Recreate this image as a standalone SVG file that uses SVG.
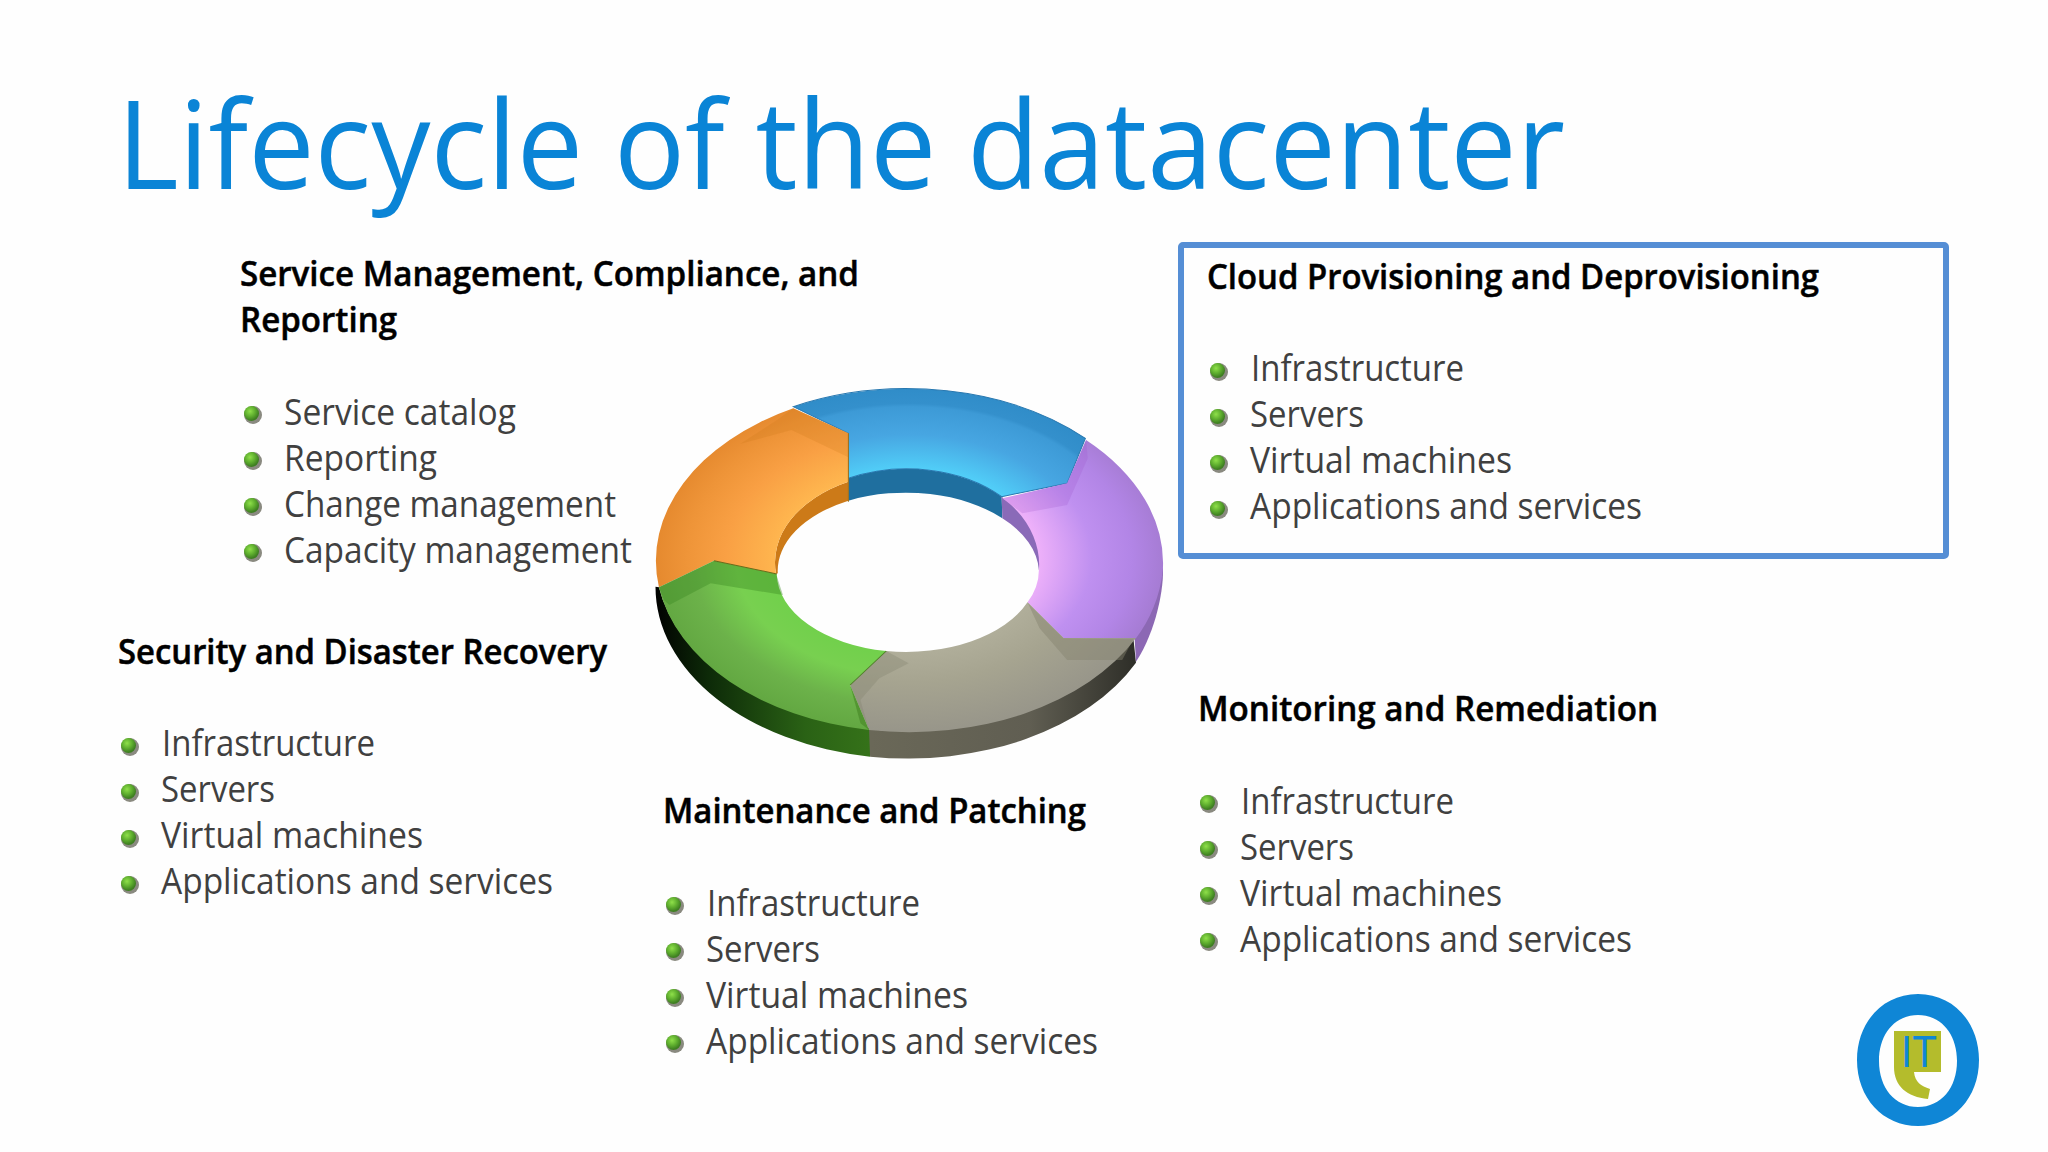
<svg xmlns="http://www.w3.org/2000/svg" width="2048" height="1152" viewBox="0 0 2048 1152">
<style>
text{font-family:"Open Sans","Noto Sans","Liberation Sans",sans-serif}
.title{font-size:122px;font-weight:400;fill:#0a84d6}
.h{font-size:35px;font-weight:600;fill:#000;stroke:#000;stroke-width:.5px}
.i{font-size:36px;font-weight:400;fill:#404040}
</style>
<defs>
<radialGradient id="bg" cx=".4" cy=".35" r=".6"><stop offset="0" stop-color="#8fe04a"/><stop offset=".6" stop-color="#5cab2d"/><stop offset="1" stop-color="#3f7f22"/></radialGradient>
<g id="b"><circle cx="1" cy="1" r="9" fill="#8a8a80"/><circle cx="-.5" cy="-.5" r="7.5" fill="url(#bg)"/></g>
<radialGradient id="gBlue" gradientUnits="userSpaceOnUse" cx="780" cy="565" r="738" gradientTransform="translate(780 565) scale(1 .7) translate(-780 -565)"><stop offset=".5" stop-color="#52d2fa"/><stop offset=".72" stop-color="#47a6e2"/><stop offset=".88" stop-color="#3d9ad6"/><stop offset=".9" stop-color="#3490cc"/><stop offset="1" stop-color="#2f8cc8"/></radialGradient>
<radialGradient id="gOrange" gradientUnits="userSpaceOnUse" cx="780" cy="565" r="738" gradientTransform="translate(780 565) scale(1 .7) translate(-780 -565)"><stop offset=".5" stop-color="#ffb850"/><stop offset=".72" stop-color="#f9a044"/><stop offset=".88" stop-color="#ee9438"/><stop offset="1" stop-color="#e5892e"/></radialGradient>
<radialGradient id="gPurple" gradientUnits="userSpaceOnUse" cx="780" cy="565" r="738" gradientTransform="translate(780 565) scale(1 .7) translate(-780 -565)"><stop offset=".5" stop-color="#f0b2fa"/><stop offset=".72" stop-color="#bf90f0"/><stop offset=".88" stop-color="#b285e6"/><stop offset="1" stop-color="#a67cd4"/></radialGradient>
<radialGradient id="gGreen" gradientUnits="userSpaceOnUse" cx="780" cy="565" r="738" gradientTransform="translate(780 565) scale(1 .7) translate(-780 -565)"><stop offset=".5" stop-color="#6fd04a"/><stop offset=".68" stop-color="#78d050"/><stop offset=".85" stop-color="#6cb24a"/><stop offset="1" stop-color="#63a842"/></radialGradient>
<radialGradient id="gGray" gradientUnits="userSpaceOnUse" cx="780" cy="565" r="738" gradientTransform="translate(780 565) scale(1 .7) translate(-780 -565)"><stop offset=".5" stop-color="#b2b09c"/><stop offset=".72" stop-color="#a6a490"/><stop offset="1" stop-color="#98968a"/></radialGradient>
<linearGradient id="gSideGreen" gradientUnits="userSpaceOnUse" x1="40" y1="0" x2="670" y2="0"><stop offset="0" stop-color="#000"/><stop offset=".25" stop-color="#0d2a08"/><stop offset=".7" stop-color="#2a6215"/><stop offset="1" stop-color="#357219"/></linearGradient>
<linearGradient id="gSideGray" gradientUnits="userSpaceOnUse" x1="670" y1="0" x2="1440" y2="0"><stop offset="0" stop-color="#6a6858"/><stop offset=".6" stop-color="#605e52"/><stop offset="1" stop-color="#2e2e28"/></linearGradient>
</defs>
<rect id="background" width="2048" height="1152" fill="#fefefe"/>
<text id="title" class="title" x="117" y="189" textLength="1448" lengthAdjust="spacingAndGlyphs">Lifecycle of the datacenter</text>

<g id="ring" transform="translate(640 370) scale(.34444 .33333)">
<path d="M45 650A738 515 0 0 0 668 1160L668 1075A738 515 0 0 1 55 652Z" fill="url(#gSideGreen)"/>
<path d="M668 1160A738 515 0 0 0 1440 878L1432 800A738 515 0 0 1 665 1078Z" fill="url(#gSideGray)"/>
<path d="M1436 805L1518 590C1522 650 1500 780 1440 875Z" fill="#8c68b4"/>
<path d="M605 392A380 237 0 0 1 1052 445L1050 380A380 270 0 0 0 605 325Z" fill="#1f6f9f"/>
<path d="M605 392A380 237 0 0 0 400 610L395 612A380 270 0 0 1 605 335Z" fill="#cc7a18"/>
<path d="M1052 445A380 237 0 0 1 1158 600L1172 600L1140 450L1050 380Z" fill="#8a6ab8"/>
<path d="M445 110A738 515 0 0 1 1293 205L1240 340L1050 380A380 270 0 0 0 605 325L605 190Z" fill="url(#gBlue)" stroke="#2878b0" stroke-width="3"/>
<path d="M445 115A738 515 0 0 0 55 652L215 572L395 612A380 270 0 0 1 605 335L605 190Z" fill="url(#gOrange)"/>
<path d="M1295 210A738 515 0 0 1 1518 600C1510 680 1480 750 1440 805L1230 805L1125 697A380 237 0 0 0 1158 600C1165 530 1130 440 1052 385L1240 340Z" fill="url(#gPurple)"/>
<path d="M1125 697A380 237 0 0 1 715 843L610 945L665 1080A738 515 0 0 0 1440 804L1230 804Z" fill="url(#gGray)"/>
<path d="M215 572L55 652A738 515 0 0 0 665 1080L610 945L715 843A380 237 0 0 1 397 612Z" fill="url(#gGreen)"/>
<path d="M445 115L605 190L605 262L440 180L290 222L398 150Z" fill="#c87818" opacity=".22"/>
<path d="M215 572L395 612L415 675L205 640L85 705L70 690L55 652Z" fill="#3c8a22" opacity=".4"/>
<path d="M1052 385L1240 340L1295 210L1300 265L1240 405L1110 430Z" fill="#9a50c8" opacity=".22"/>
<path d="M610 945L715 843L780 880L695 925L640 990L665 1080Z" fill="#85836f" opacity=".35"/>
<path d="M1125 697L1230 805L1432 808L1400 870L1240 870L1160 775Z" fill="#85836f" opacity=".45"/>
<path d="M610 945L665 1080L640 1060Z" fill="#4a8a2a" opacity=".7"/>
<path d="M397 612L215 572" fill="none" stroke="#6a6a18" stroke-width="3"/>
<path d="M715 843L610 945" fill="none" stroke="#4a7a22" stroke-width="3"/>
<path d="M605 190V395" fill="none" stroke="#9a7020" stroke-width="3"/>
</g>

<g id="service-management">
<text class="h" x="240" y="286" textLength="619" lengthAdjust="spacingAndGlyphs">Service Management, Compliance, and</text>
<text class="h" x="240" y="332" textLength="157" lengthAdjust="spacingAndGlyphs">Reporting</text>
<use href="#b" x="252" y="414"/><text class="i" x="284" y="425" textLength="232" lengthAdjust="spacingAndGlyphs">Service catalog</text>
<use href="#b" x="252" y="460"/><text class="i" x="284" y="471" textLength="153" lengthAdjust="spacingAndGlyphs">Reporting</text>
<use href="#b" x="252" y="506"/><text class="i" x="284" y="517" textLength="332" lengthAdjust="spacingAndGlyphs">Change management</text>
<use href="#b" x="252" y="552"/><text class="i" x="284" y="563" textLength="348" lengthAdjust="spacingAndGlyphs">Capacity management</text>
</g>

<g id="security">
<text class="h" x="118" y="664" textLength="489" lengthAdjust="spacingAndGlyphs">Security and Disaster Recovery</text>
<use href="#b" x="129" y="746"/><text class="i" x="162" y="756" textLength="213" lengthAdjust="spacingAndGlyphs">Infrastructure</text>
<use href="#b" x="129" y="792"/><text class="i" x="161" y="802" textLength="114" lengthAdjust="spacingAndGlyphs">Servers</text>
<use href="#b" x="129" y="838"/><text class="i" x="161" y="848" textLength="262" lengthAdjust="spacingAndGlyphs">Virtual machines</text>
<use href="#b" x="129" y="884"/><text class="i" x="161" y="894" textLength="392" lengthAdjust="spacingAndGlyphs">Applications and services</text>
</g>

<g id="maintenance">
<text class="h" x="663" y="823" textLength="423" lengthAdjust="spacingAndGlyphs">Maintenance and Patching</text>
<use href="#b" x="674" y="905"/><text class="i" x="707" y="916" textLength="213" lengthAdjust="spacingAndGlyphs">Infrastructure</text>
<use href="#b" x="674" y="951"/><text class="i" x="706" y="962" textLength="114" lengthAdjust="spacingAndGlyphs">Servers</text>
<use href="#b" x="674" y="997"/><text class="i" x="706" y="1008" textLength="262" lengthAdjust="spacingAndGlyphs">Virtual machines</text>
<use href="#b" x="674" y="1043"/><text class="i" x="706" y="1054" textLength="392" lengthAdjust="spacingAndGlyphs">Applications and services</text>
</g>

<g id="monitoring">
<text class="h" x="1198" y="721" textLength="460" lengthAdjust="spacingAndGlyphs">Monitoring and Remediation</text>
<use href="#b" x="1208" y="803"/><text class="i" x="1241" y="814" textLength="213" lengthAdjust="spacingAndGlyphs">Infrastructure</text>
<use href="#b" x="1208" y="849"/><text class="i" x="1240" y="860" textLength="114" lengthAdjust="spacingAndGlyphs">Servers</text>
<use href="#b" x="1208" y="895"/><text class="i" x="1240" y="906" textLength="262" lengthAdjust="spacingAndGlyphs">Virtual machines</text>
<use href="#b" x="1208" y="941"/><text class="i" x="1240" y="952" textLength="392" lengthAdjust="spacingAndGlyphs">Applications and services</text>
</g>

<g id="cloud-provisioning">
<rect x="1181" y="245" width="765" height="311" rx="2" fill="none" stroke="#558ed5" stroke-width="6"/>
<text class="h" x="1207" y="289" textLength="612" lengthAdjust="spacingAndGlyphs">Cloud Provisioning and Deprovisioning</text>
<use href="#b" x="1218" y="371"/><text class="i" x="1251" y="381" textLength="213" lengthAdjust="spacingAndGlyphs">Infrastructure</text>
<use href="#b" x="1218" y="417"/><text class="i" x="1250" y="427" textLength="114" lengthAdjust="spacingAndGlyphs">Servers</text>
<use href="#b" x="1218" y="463"/><text class="i" x="1250" y="473" textLength="262" lengthAdjust="spacingAndGlyphs">Virtual machines</text>
<use href="#b" x="1218" y="509"/><text class="i" x="1250" y="519" textLength="392" lengthAdjust="spacingAndGlyphs">Applications and services</text>
</g>

<g id="logo">
<path fill-rule="evenodd" d="M1918 994C1953 994 1979 1022 1979 1060C1979 1098 1953 1126 1918 1126C1883 1126 1857 1098 1857 1060C1857 1022 1883 994 1918 994ZM1918 1015C1895 1015 1879 1034 1879 1061C1879 1088 1895 1107 1918 1107C1941 1107 1957 1088 1957 1061C1957 1034 1941 1015 1918 1015Z" fill="#0f86d6"/>
<path d="M1894 1031H1941V1072H1914C1915 1082 1921 1086 1930 1089L1928 1099C1907 1097 1894 1086 1894 1067Z" fill="#b4bc2c"/>
<text x="1901" y="1067" font-size="45" style="font-family:'Liberation Sans',sans-serif" fill="#0f86d6" textLength="36" lengthAdjust="spacingAndGlyphs">IT</text>
</g>
</svg>
